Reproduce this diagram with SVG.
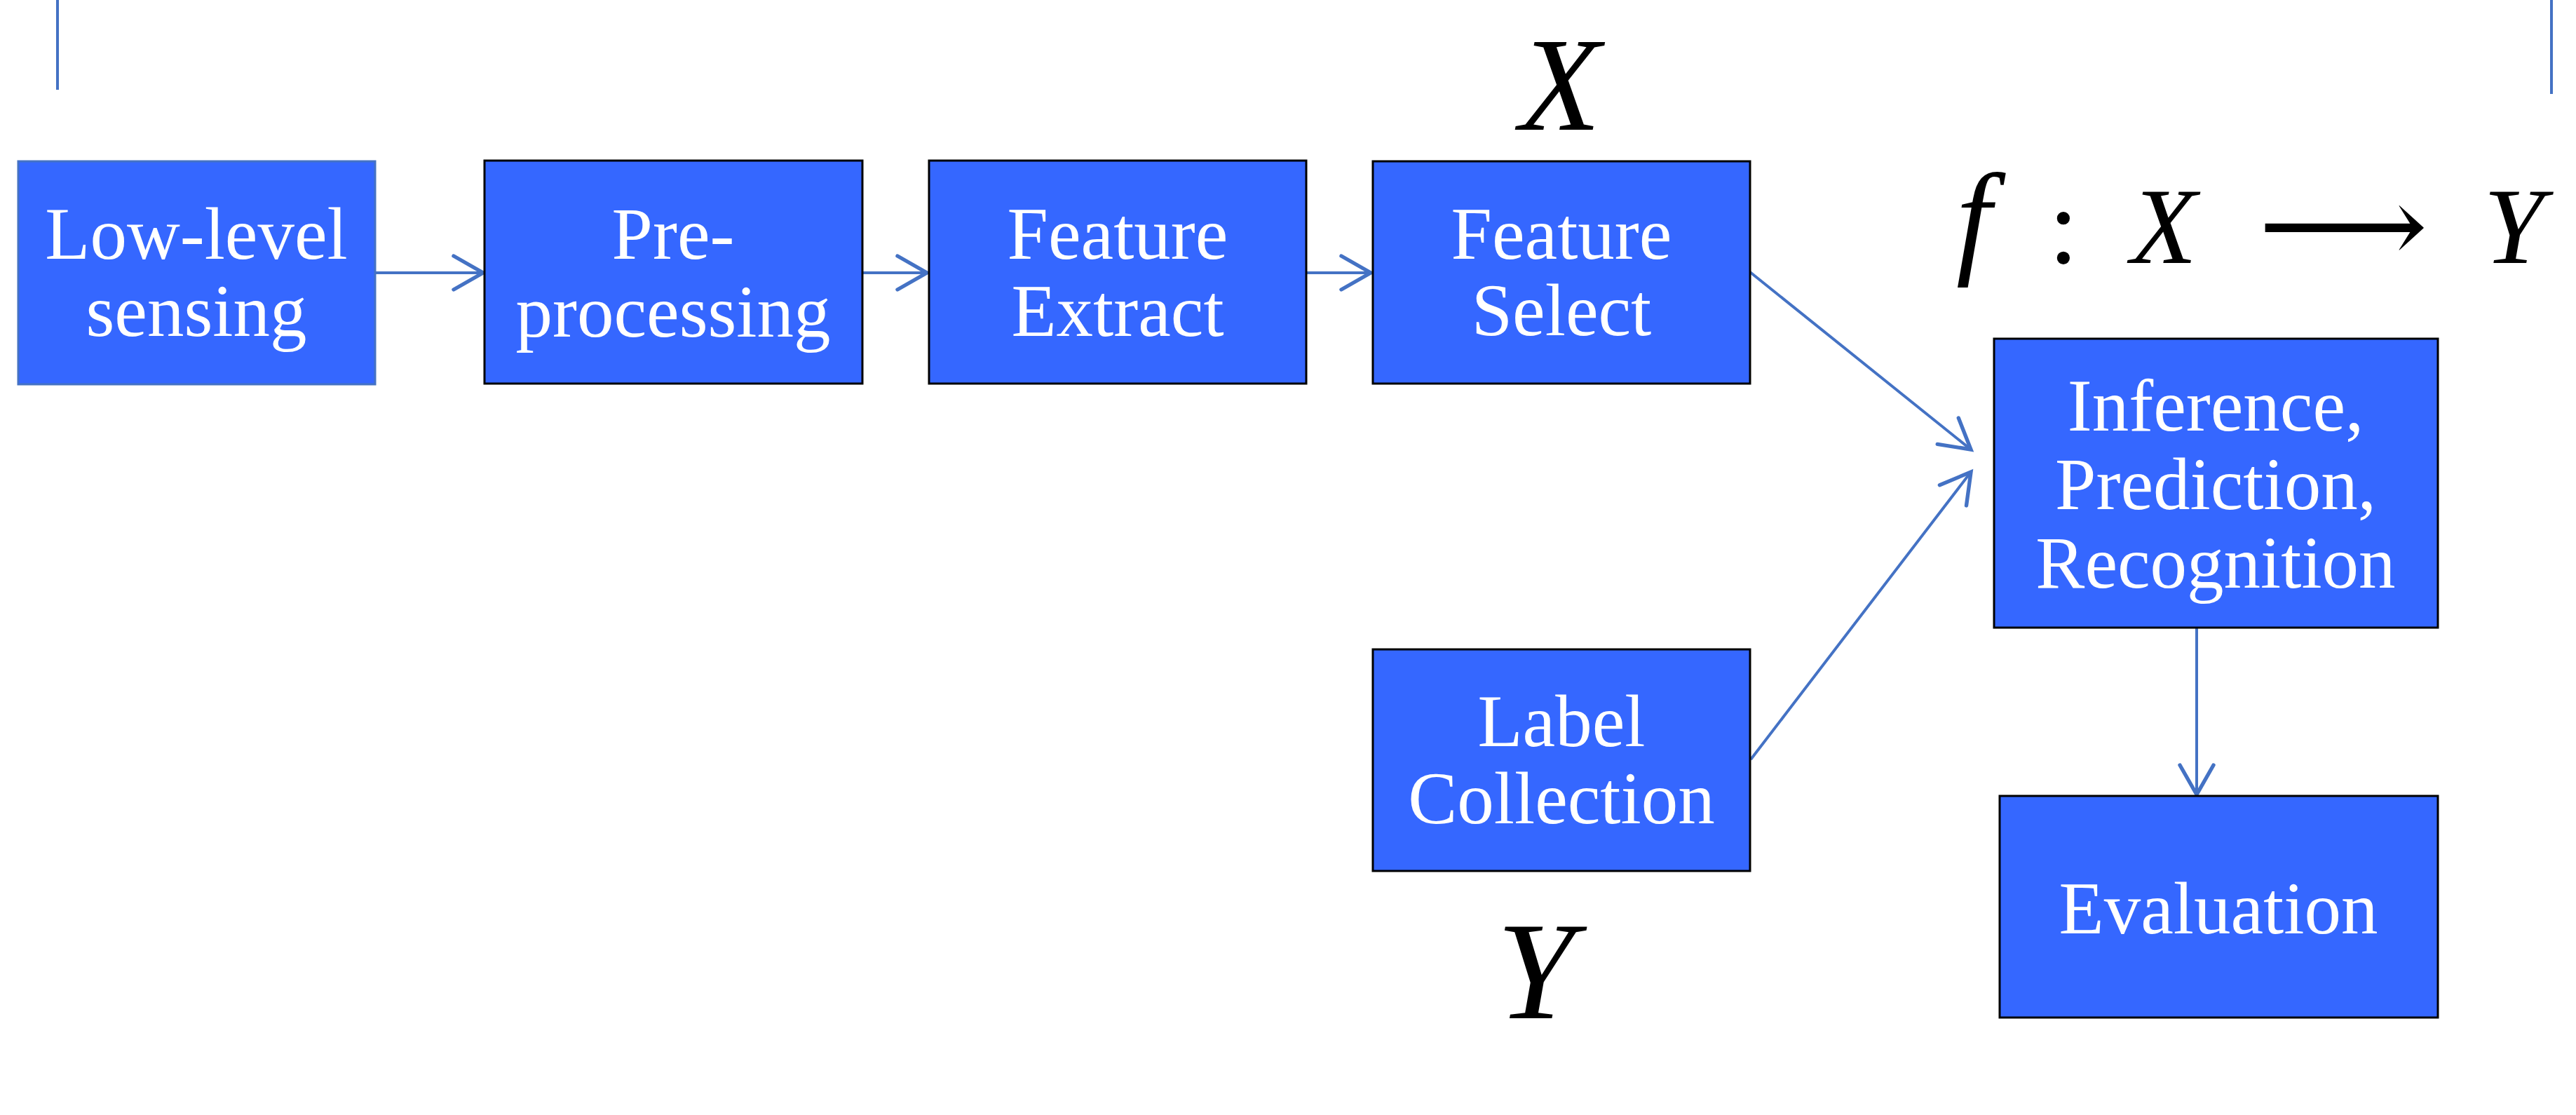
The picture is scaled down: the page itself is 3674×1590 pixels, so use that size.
<svg xmlns="http://www.w3.org/2000/svg" width="3674" height="1590" viewBox="0 0 3674 1590">
<style>
.box{fill:#3567FF;stroke:#000;stroke-width:3}
.lbl{font-family:"Liberation Serif","Times New Roman",serif;font-size:105px;fill:#fff;text-anchor:middle}
.math{font-family:"Liberation Serif","DejaVu Serif",serif;font-style:italic;fill:#000}
.conn{stroke:#4472C4;stroke-width:4;fill:none}
</style>
<defs>
<marker id="arr" markerUnits="userSpaceOnUse" markerWidth="60" markerHeight="60" viewBox="-40 -25 45 50" refX="0" refY="0" orient="auto">
<path d="M-35,-20 L0,0 L-35,20" fill="none" stroke="#4472C4" stroke-width="4.5" stroke-linecap="round" stroke-linejoin="miter"/>
</marker>
</defs>
<rect width="3674" height="1590" fill="#fff"/>
<g id="frame">
<line x1="82" y1="0" x2="82" y2="128" stroke="#4472C4" stroke-width="4"/>
<line x1="3639" y1="0" x2="3639" y2="134" stroke="#4472C4" stroke-width="4"/>
</g>
<g id="connectors">
<line class="conn" x1="535" y1="389" x2="689" y2="389" marker-end="url(#arr)"/>
<line class="conn" x1="1230" y1="389" x2="1322" y2="389" marker-end="url(#arr)"/>
<line class="conn" x1="1863" y1="389" x2="1955" y2="389" marker-end="url(#arr)"/>
<line class="conn" x1="2496" y1="388" x2="2811" y2="641" marker-end="url(#arr)"/>
<line class="conn" x1="2497" y1="1083" x2="2811" y2="673" marker-end="url(#arr)"/>
<line class="conn" x1="3133" y1="896" x2="3133" y2="1133" stroke-width="3.5" marker-end="url(#arr)"/>
</g>
<g id="node-lowlevel">
<rect class="box" x="26" y="230" width="509" height="318" style="stroke:#4472C4"/>
<text class="lbl" x="280" y="369">Low-level</text>
<text class="lbl" x="280" y="479">sensing</text>
</g>
<g id="node-preprocessing">
<rect class="box" x="691" y="229" width="539" height="318"/>
<text class="lbl" x="960" y="369">Pre-</text>
<text class="lbl" x="960" y="480">processing</text>
</g>
<g id="node-featureextract">
<rect class="box" x="1325" y="229" width="538" height="318"/>
<text class="lbl" x="1594" y="369">Feature</text>
<text class="lbl" x="1594" y="479">Extract</text>
</g>
<g id="node-featureselect">
<rect class="box" x="1958" y="230" width="538" height="317"/>
<text class="lbl" x="2227" y="369">Feature</text>
<text class="lbl" x="2227" y="478">Select</text>
</g>
<g id="node-inference">
<rect class="box" x="2844" y="483" width="633" height="412"/>
<text class="lbl" x="3160" y="614">Inference,</text>
<text class="lbl" x="3160" y="726">Prediction,</text>
<text class="lbl" x="3160" y="838">Recognition</text>
</g>
<g id="node-labelcollection">
<rect class="box" x="1958" y="926" width="538" height="316"/>
<text class="lbl" x="2227" y="1064">Label</text>
<text class="lbl" x="2227" y="1174">Collection</text>
</g>
<g id="node-evaluation">
<rect class="box" x="2852" y="1135" width="625" height="316"/>
<text class="lbl" x="3164" y="1331">Evaluation</text>
</g>
<g id="math-labels">
<text class="math" x="2225" y="185" font-size="190" text-anchor="middle">X</text>
<text class="math" x="2190" y="1452" font-size="200" text-anchor="middle">Y</text>
<text class="math" x="2790" y="372" font-size="180">f</text>
<text x="2943" y="375" font-size="155" font-family="Liberation Serif,serif" text-anchor="middle">:</text>
<text class="math" x="3086" y="375" font-size="155" text-anchor="middle">X</text>
<text x="3221" y="375" font-size="155" font-family="DejaVu Serif,DejaVu Sans,sans-serif" textLength="242" lengthAdjust="spacingAndGlyphs">⟶</text>
<text class="math" x="3585" y="375" font-size="155" text-anchor="middle">Y</text>
</g>
</svg>
